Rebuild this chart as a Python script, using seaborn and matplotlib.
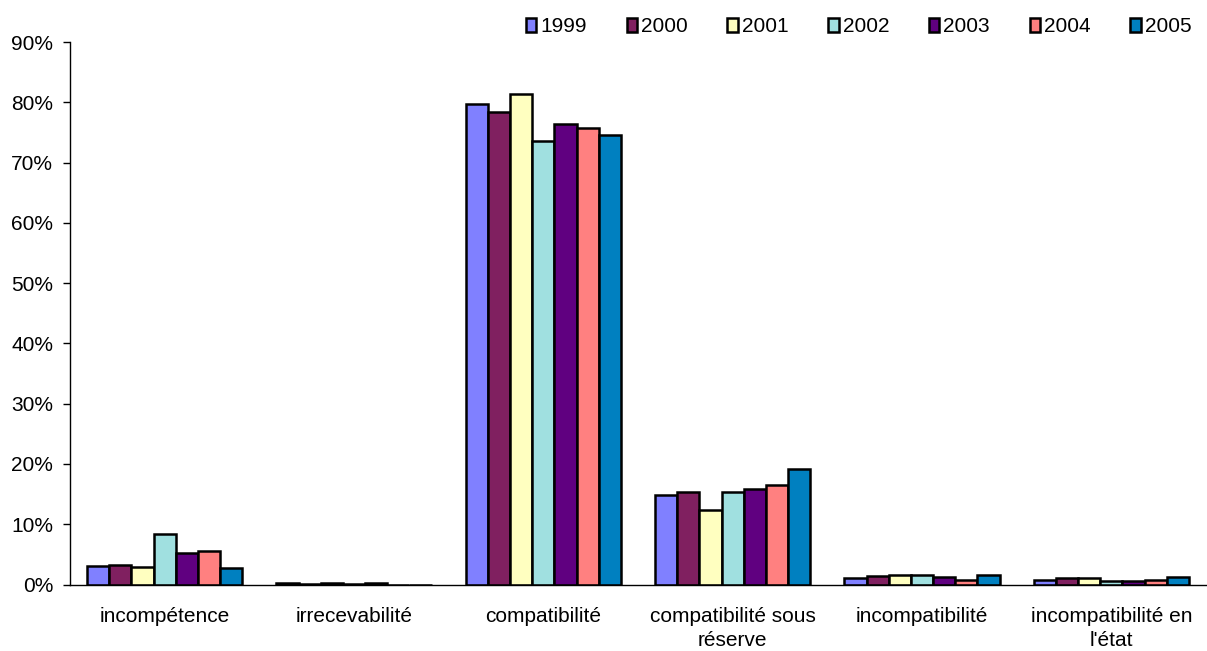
import numpy as np
import pandas as pd
import matplotlib
matplotlib.use("Agg")
import matplotlib.pyplot as plt
import seaborn as sns
from matplotlib.ticker import FuncFormatter, FixedLocator

categories = ["incompétence", "irrecevabilité", "compatibilité",
              "compatibilité sous\nréserve", "incompatibilité",
              "incompatibilité en\nl'état"]
years = ["1999", "2000", "2001", "2002", "2003", "2004", "2005"]

# share of decisions (%) per category, one list per year
v1999 = [3.0, 0.3, 79.7, 14.8, 1.0, 0.7]
v2000 = [3.2, 0.1, 78.4, 15.4, 1.4, 1.1]
v2001 = [2.9, 0.2, 81.4, 12.3, 1.5, 1.1]
v2002 = [8.3, 0.1, 73.6, 15.3, 1.5, 0.5]
v2003 = [5.3, 0.2, 76.4, 15.8, 1.2, 0.6]
v2004 = [5.5, 0.0, 75.8, 16.5, 0.8, 0.8]
v2005 = [2.8, 0.0, 74.6, 19.2, 1.6, 1.2]
series = [v1999, v2000, v2001, v2002, v2003, v2004, v2005]

colors = ["#8080FF", "#802060", "#FFFFC0", "#A0E0E0", "#600080", "#FF8080", "#0080C0"]

rows = []
for y, vals in zip(years, series):
    for c, v in zip(categories, vals):
        rows.append({"categorie": c, "annee": y, "part": v})
df = pd.DataFrame(rows)

sns.set_theme(style="white")
plt.rcParams["font.family"] = ["Liberation Sans", "DejaVu Sans"]
plt.rcParams["text.color"] = "black"
plt.rcParams["xtick.color"] = "black"
plt.rcParams["ytick.color"] = "black"

FS = 15

fig = plt.figure(figsize=(12.07, 6.51), dpi=100)
ax = fig.add_axes([70 / 1207, 1 - 584.5 / 651, 1136 / 1207, (584.5 - 42) / 651])

sns.barplot(data=df, x="categorie", y="part", hue="annee", order=categories,
            hue_order=years, palette=colors, width=0.82, edgecolor="black",
            linewidth=1.8, saturation=1, ax=ax, legend=True)

ax.set_xlim(-0.5, len(categories) - 0.5)
ax.set_ylim(0, 90)
ax.set_yticks(np.arange(0, 91, 10))
ax.yaxis.set_major_formatter(FuncFormatter(lambda v, p: f"{int(round(v))}%"))
ax.set_xlabel("")
ax.set_ylabel("")

# tick marks on category boundaries, labels at centres
ax.xaxis.set_minor_locator(FixedLocator(np.arange(-0.5, len(categories), 1.0)))
ax.tick_params(axis="x", which="major", length=0, labelsize=FS, pad=16)
ax.tick_params(axis="x", which="minor", length=6, width=1, direction="out")
ax.tick_params(axis="y", which="major", length=5, width=1,
               direction="out", labelsize=FS, pad=7, left=True)
for lbl in ax.get_xticklabels():
    lbl.set_linespacing(1.35)

for s in ["top", "right"]:
    ax.spines[s].set_visible(False)
for s in ["left", "bottom"]:
    ax.spines[s].set_color("black")
    ax.spines[s].set_linewidth(1)
ax.grid(False)

handles, labels = ax.get_legend_handles_labels()
ax.legend_.remove()
fig.legend(handles, labels, loc="upper right", ncol=7,
           bbox_to_anchor=(1200 / 1207, 1 - 9 / 651), frameon=False,
           fontsize=FS, handlelength=0.5, handleheight=0.65, handletextpad=0.2,
           columnspacing=1.9, borderaxespad=0)

fig.savefig("out.png", dpi=100)
